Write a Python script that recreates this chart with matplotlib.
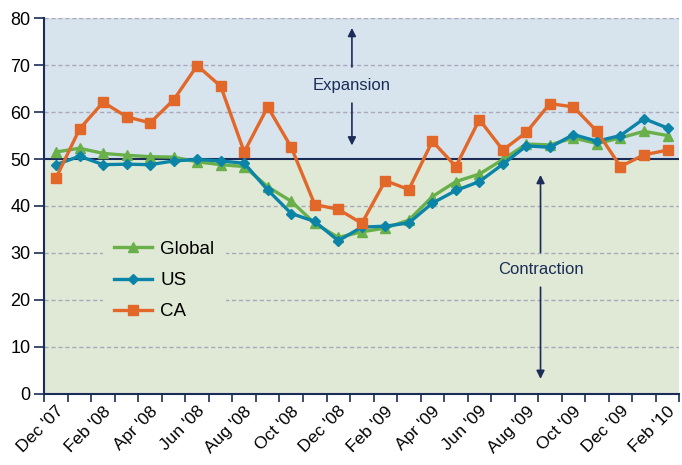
import numpy as np
import matplotlib.pyplot as plt

plt.rcParams['font.family'] = ['Liberation Sans', 'DejaVu Sans']

months = ["Dec '07", "Jan '08", "Feb '08", "Mar '08", "Apr '08", "May '08", "Jun '08",
          "Jul '08", "Aug '08", "Sep '08", "Oct '08", "Nov '08", "Dec '08", "Jan '09",
          "Feb '09", "Mar '09", "Apr '09", "May '09", "Jun '09", "Jul '09", "Aug '09",
          "Sep '09", "Oct '09", "Nov '09", "Dec '09", "Jan '10", "Feb '10"]

global_pmi = [51.5, 52.3, 51.2, 50.8, 50.5, 50.4, 49.4, 48.8, 48.4, 44.1, 41.0, 36.3, 33.3,
              34.5, 35.3, 37.0, 42.0, 45.2, 46.8, 49.9, 53.2, 53.0, 54.5, 53.3, 54.5, 55.9, 55.0]
us_pmi = [48.8, 50.6, 48.8, 48.9, 48.8, 49.6, 49.9, 49.6, 49.1, 43.4, 38.4, 36.7, 32.6,
          35.5, 35.7, 36.4, 40.6, 43.3, 45.2, 48.9, 52.8, 52.5, 55.2, 53.8, 55.0, 58.6, 56.6]
ca_pmi = [46.0, 56.4, 62.1, 59.0, 57.7, 62.6, 69.9, 65.5, 51.5, 61.1, 52.5, 40.3, 39.3,
          36.3, 45.4, 43.5, 53.8, 48.4, 58.4, 51.9, 55.7, 61.8, 61.1, 55.9, 48.4, 50.9, 51.9]

navy = '#1b2c58'
c_global = '#6ab04a'
c_us = '#0b84a8'
c_ca = '#e2682a'

fig = plt.figure(figsize=(6.82, 4.65), dpi=100)
ax = fig.add_axes([0.065, 0.153, 0.931, 0.808])

x = np.arange(len(months))

# shaded regions above/below 50
ax.axhspan(50, 80, color='#d7e4ee', zorder=0)
ax.axhspan(0, 50, color='#dfe9d6', zorder=0)

for yv in range(10, 90, 10):
    if yv != 50:
        ax.axhline(yv, color='#a9a9bb', lw=1, ls=(0, (3, 2)), zorder=1)
ax.axhline(50, color=navy, lw=1.5, zorder=2)

ax.plot(x, global_pmi, color=c_global, lw=2.4, marker='^', ms=7, label='Global', zorder=3)
ax.plot(x, us_pmi, color=c_us, lw=2.4, marker='D', ms=5, label='US', zorder=4)
ax.plot(x, ca_pmi, color=c_ca, lw=2.4, marker='s', ms=7, label='CA', zorder=5)

ax.set_xlim(-0.5, len(months) - 0.5)
ax.set_ylim(0, 80)
ax.set_yticks(range(0, 90, 10))

# tick marks at category boundaries, labels at every other category centre
ax.set_xticks(np.arange(-0.5, len(months), 1))
ax.set_xticklabels([])
ax.set_xticks(x[::2], minor=True)
ax.set_xticklabels(months[::2], minor=True, rotation=45, ha='right',
                   rotation_mode='anchor', fontsize=12.5)
ax.tick_params(axis='x', which='major', length=6, color=navy, width=1.2, direction='out')
ax.tick_params(axis='x', which='minor', length=0, pad=7)
ax.tick_params(axis='y', length=7, color=navy, width=1.2, labelsize=13, pad=3)

for s in ['top', 'right']:
    ax.spines[s].set_visible(False)
for s in ['left', 'bottom']:
    ax.spines[s].set_color(navy)
    ax.spines[s].set_linewidth(1.5)

# expansion / contraction arrows
ax.annotate('', xy=(12.58, 78.5), xytext=(12.58, 69), zorder=6,
            arrowprops=dict(arrowstyle='-|>', color=navy, lw=1.2, mutation_scale=12))
ax.annotate('', xy=(12.58, 52.3), xytext=(12.58, 62.5), zorder=6,
            arrowprops=dict(arrowstyle='-|>', color=navy, lw=1.2, mutation_scale=12))
ax.text(12.58, 65.7, 'Expansion', ha='center', va='center', color=navy, fontsize=12, zorder=6)

ax.annotate('', xy=(20.6, 47.2), xytext=(20.6, 29.5), zorder=6,
            arrowprops=dict(arrowstyle='-|>', color=navy, lw=1.2, mutation_scale=12))
ax.annotate('', xy=(20.6, 2.6), xytext=(20.6, 23.3), zorder=6,
            arrowprops=dict(arrowstyle='-|>', color=navy, lw=1.2, mutation_scale=12))
ax.text(20.6, 26.4, 'Contraction', ha='center', va='center', color=navy, fontsize=12, zorder=6)

leg = ax.legend(loc='upper left', bbox_to_anchor=(0.078, 0.462), frameon=True,
                facecolor='#dfe9d6', edgecolor='none', fontsize=13.5, framealpha=1,
                handlelength=2.0, handletextpad=0.45, labelspacing=0.75, borderpad=0.6)
leg.set_zorder(7)

fig.savefig('out.png', dpi=100)
